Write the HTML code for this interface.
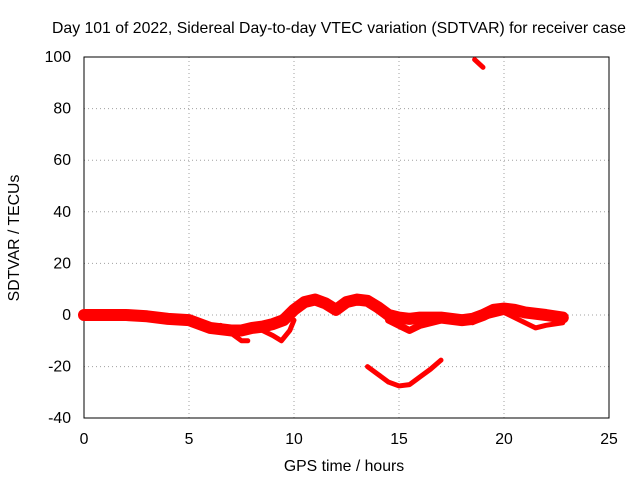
<!DOCTYPE html>
<html><head><meta charset="utf-8"><style>
body{margin:0;background:#fff;}
svg text{font-family:"Liberation Sans",sans-serif;font-size:15.8px;fill:#000;}
</style></head><body>
<svg id="chart" width="640" height="480">
<text x="52" y="33">Day 101 of 2022, Sidereal Day-to-day VTEC variation (SDTVAR) for receiver case</text>
<g id="grid"></g>
<g id="axes"></g>
<g id="series"></g>
<text x="344" y="471" text-anchor="middle">GPS time / hours</text>
<text transform="translate(19,238) rotate(-90)" text-anchor="middle">SDTVAR / TECUs</text>
</svg>
<script>
const xTicks=[0,5,10,15,20,25];
const yTicks=[-40,-20,0,20,40,60,80,100];
const mainT=[0,1,2,3,4,5,5.5,6,6.5,7,7.5,8,8.5,9,9.5,10,10.5,11,11.5,12,12.5,13,13.5,14,14.5,15,15.5,16,17,18,18.5,19,19.5,20,20.5,21,22,22.8];
const mainV=[0,0,0,-0.5,-1.5,-2,-3.5,-5,-5.5,-6,-6,-5,-4.5,-3.5,-2,2,5,6,4.5,2,5,6,5.5,3,0,-1,-1.5,-1,-1,-2,-1.5,0,2,2.5,2,1,0,-1];
const branch1T=[6.5,7,7.5,7.8];
const branch1V=[-4,-7,-10,-10];
const branch2T=[8.5,9,9.4,9.8,10];
const branch2V=[-6,-8,-10,-6,-2];
const branch3T=[14.5,15,15.5,16,17];
const branch3V=[-2,-4,-6,-4,-2];
const branch4T=[18.5,19,20,21.5,22,22.8];
const branch4V=[-3,-1,1,-5,-4,-3];
const arcT=[13.5,14,14.5,15,15.5,16,16.5,17];
const arcV=[-20,-23,-26,-27.5,-27,-24,-21,-17.5];
const topT=[18.6,19];
const topV=[99,96];
const X=t=>84+t*21, Y=v=>315-v*2.58;
const NS="http://www.w3.org/2000/svg";
function mk(tag,attrs,parent){const e=document.createElementNS(NS,tag);for(const k in attrs)e.setAttribute(k,attrs[k]);document.getElementById(parent).appendChild(e);return e;}
xTicks.forEach(t=>{
 if(t>0&&t<25){const g=mk('line',{x1:X(t),x2:X(t),y1:57,y2:418,stroke:'#a0a0a0','stroke-dasharray':'1,3'},'grid');
 
 }
 const tx=mk('text',{x:X(t),y:444,'text-anchor':'middle'},'axes');tx.textContent=t;
 
 
});
yTicks.forEach(v=>{
 if(v>-40&&v<100){const g=mk('line',{x1:84,x2:609,y1:Y(v),y2:Y(v),stroke:'#a0a0a0','stroke-dasharray':'1,3'},'grid');
 
 }
 const tx=mk('text',{x:71,y:Y(v)+5,'text-anchor':'end'},'axes');tx.textContent=v;
 
 
});
const fr=mk('rect',{x:84,y:57,width:525,height:361,fill:'none',stroke:'#000'},'axes');


function series(T,V,w,name){
 const p=mk('polyline',{points:T.map((t,i)=>X(t)+','+Y(V[i])).join(' '),fill:'none',stroke:'#ff0000','stroke-width':w,'stroke-linejoin':'round','stroke-linecap':'round'},'series');
 
 
}
series(mainT,mainV,12,'sdtvar-main-band');
series(branch1T,branch1V,5,'sdtvar-branch-1');
series(branch2T,branch2V,5,'sdtvar-branch-2');
series(branch3T,branch3V,7,'sdtvar-branch-3');
series(branch4T,branch4V,5,'sdtvar-branch-4');
series(arcT,arcV,5,'sdtvar-low-arc');
series(topT,topV,5,'sdtvar-top-segment');
</script>
</body></html>
